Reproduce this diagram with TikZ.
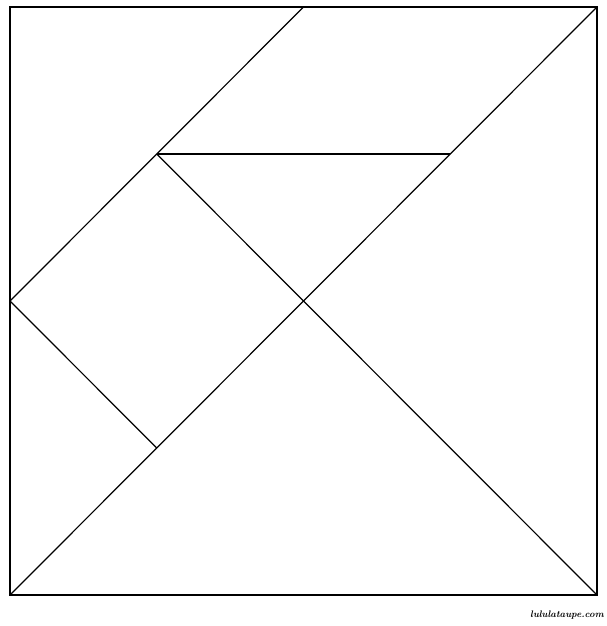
\documentclass[tikz,border=0pt]{standalone}
\begin{document}
\begin{tikzpicture}[x=1pt,y=-1pt,
  piece/.style={line width=1.2pt, line join=miter, black},
  frame/.style={line width=1.6pt, black},
  credit/.style={font=\bfseries\itshape\fontsize{9.5}{11}\selectfont, inner sep=0pt, anchor=east}]
\useasboundingbox (0,0) rectangle (607,626);
\coordinate (BL) at (10,595);
\coordinate (BR) at (597,595);
\coordinate (TR) at (597,7);
\coordinate (TL) at (10,7);
\coordinate (C) at (303.5,301);
\coordinate (L) at (10,301);
\coordinate (T) at (303.5,7);
\coordinate (SQt) at (156.75,154);
\coordinate (SQb) at (156.75,448);
\coordinate (Pr) at (450.25,154);
\draw[piece] (BL) -- (TR);
\draw[piece] (L) -- (T);
\draw[piece] (SQt) -- (Pr);
\draw[piece] (SQt) -- (BR);
\draw[piece] (L) -- (SQb);
\draw[frame] (BL) rectangle (TR);
\node[credit] (site) at (604,615) {lululataupe.com};
\end{tikzpicture}
\end{document}
